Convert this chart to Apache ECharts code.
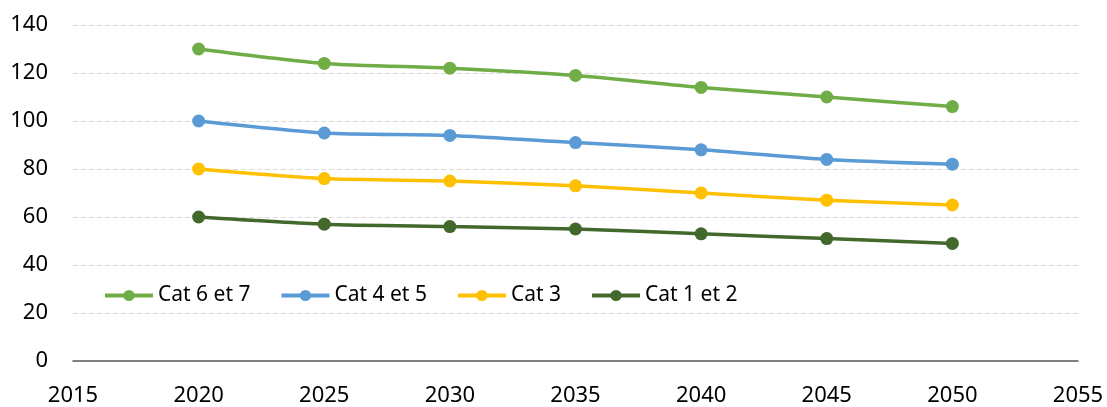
<!DOCTYPE html>
<html>
<head>
<meta charset="utf-8">
<script src="https://cdn.jsdelivr.net/npm/echarts@6/dist/echarts.min.js"></script>
<style>
  html, body { margin: 0; padding: 0; background: #fff; }
  #chart { width: 1107px; height: 407px; }
</style>
</head>
<body>
<div id="chart"></div>
<script>
// Years on the horizontal axis
const years = [2020, 2025, 2030, 2035, 2040, 2045, 2050];

// Series values per category
const cat67 = [130, 124, 122, 119, 114, 110, 106];
const cat45 = [100, 95, 94, 91, 88, 84, 82];
const cat3 = [80, 76, 75, 73, 70, 67, 65];
const cat12 = [60, 57, 56, 55, 53, 51, 49];

const seriesNames = ['Cat 6 et 7', 'Cat 4 et 5', 'Cat 3', 'Cat 1 et 2'];
const seriesColors = ['#70AD47', '#5B9BD5', '#FFC000', '#43682B'];
const seriesValues = [cat67, cat45, cat3, cat12];

const FONT = '"Noto Sans", sans-serif';

const chart = echarts.init(document.getElementById('chart'), null, { renderer: 'canvas' });

chart.setOption({
  animation: false,
  backgroundColor: '#ffffff',
  grid: { left: 73, right: 29, top: 25, bottom: 46, containLabel: false },
  legend: {
    data: seriesNames,
    left: 103,
    top: 285,
    padding: 0,
    itemWidth: 48,
    itemHeight: 14,
    itemGap: 29,
    lineStyle: { width: 4 },
    textStyle: { fontFamily: FONT, fontSize: 21, color: '#000000' }
  },
  xAxis: {
    type: 'value',
    min: 2015,
    max: 2055,
    interval: 5,
    axisLine: { show: true, lineStyle: { color: '#595959', width: 1.5 } },
    axisTick: { show: false },
    splitLine: { show: false },
    axisLabel: {
      fontFamily: FONT, fontSize: 22, color: '#000000', margin: 24,
      formatter: v => String(v)
    }
  },
  yAxis: {
    type: 'value',
    min: 0,
    max: 140,
    interval: 20,
    axisLine: { show: false },
    axisTick: { show: false },
    splitLine: { show: true, lineStyle: { color: '#d9d9d9', type: [5, 3], width: 1.2 } },
    axisLabel: { fontFamily: FONT, fontSize: 22, color: '#000000', margin: 25 }
  },
  series: seriesNames.map((name, i) => ({
    name: name,
    type: 'line',
    smooth: 0.25,
    data: years.map((y, j) => [y, seriesValues[i][j]]),
    symbol: 'circle',
    symbolSize: 13,
    itemStyle: { color: seriesColors[i] },
    lineStyle: { color: seriesColors[i], width: 3.5 },
    z: 10 - i
  }))
});
</script>
</body>
</html>
